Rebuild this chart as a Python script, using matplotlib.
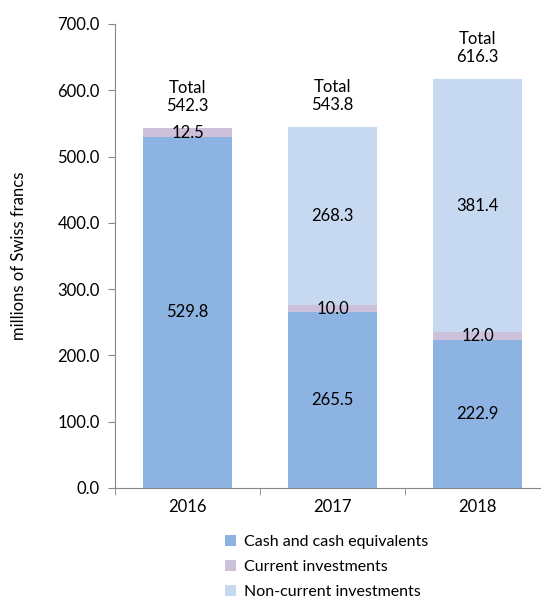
import matplotlib.pyplot as plt
import numpy as np

years = ["2016", "2017", "2018"]
cash = [529.8, 265.5, 222.9]
current = [12.5, 10.0, 12.0]
noncurrent = [0.0, 268.3, 381.4]
totals = [542.3, 543.8, 616.3]

plt.rcParams['font.family'] = ['Lato', 'DejaVu Sans']
plt.rcParams['font.size'] = 12

fig = plt.figure(figsize=(5.41, 5.98), dpi=100)
ax = fig.add_axes([0.2126, 0.184, 0.804, 0.776])

x = np.arange(len(years))
width = 0.62
cash_c = "#8DB3E2"
cur_c = "#CCC0DA"
nonc_c = "#C6D9F1"

ax.bar(x, cash, width, color=cash_c, label="Cash and cash equivalents")
ax.bar(x, current, width, bottom=cash, color=cur_c, label="Current investments")
bottom3 = [c + d for c, d in zip(cash, current)]
ax.bar(x, noncurrent, width, bottom=bottom3, color=nonc_c, label="Non-current investments")

# segment labels
for i in range(len(years)):
    ax.text(x[i], cash[i] / 2, f"{cash[i]:.1f}", ha="center", va="center")
    ax.text(x[i], cash[i] + current[i] / 2, f"{current[i]:.1f}", ha="center", va="center")
    if noncurrent[i] > 0:
        ax.text(x[i], bottom3[i] + noncurrent[i] / 2, f"{noncurrent[i]:.1f}", ha="center", va="center")
    ax.text(x[i], totals[i] + 22, f"Total\n{totals[i]:.1f}", ha="center", va="bottom", linespacing=1.15)

ax.set_xlim(-0.5, 2.5)
ax.set_ylim(0, 700)
ax.set_yticks(np.arange(0, 701, 100))
ax.set_yticklabels([f"{v:.1f}" for v in np.arange(0, 701, 100)])
ax.set_xticks(x, years)
ax.set_xticks([-0.5, 0.5, 1.5, 2.5], minor=True)
ax.tick_params(axis="x", which="major", length=0, pad=8)
ax.tick_params(axis="x", which="minor", length=5, color="#888888", direction="out")
ax.tick_params(axis="y", length=5, color="#888888", direction="out", pad=6)
for s in ["top", "right"]:
    ax.spines[s].set_visible(False)
for s in ["left", "bottom"]:
    ax.spines[s].set_color("#888888")
ax.set_ylabel("millions of Swiss francs", labelpad=22)

ax.legend(loc="upper left", bbox_to_anchor=(0.238, -0.088), frameon=False,
          handlelength=0.7, handleheight=0.7, handletextpad=0.5, labelspacing=0.68,
          fontsize=11.5, borderaxespad=0)

plt.savefig("out.png", dpi=100)
